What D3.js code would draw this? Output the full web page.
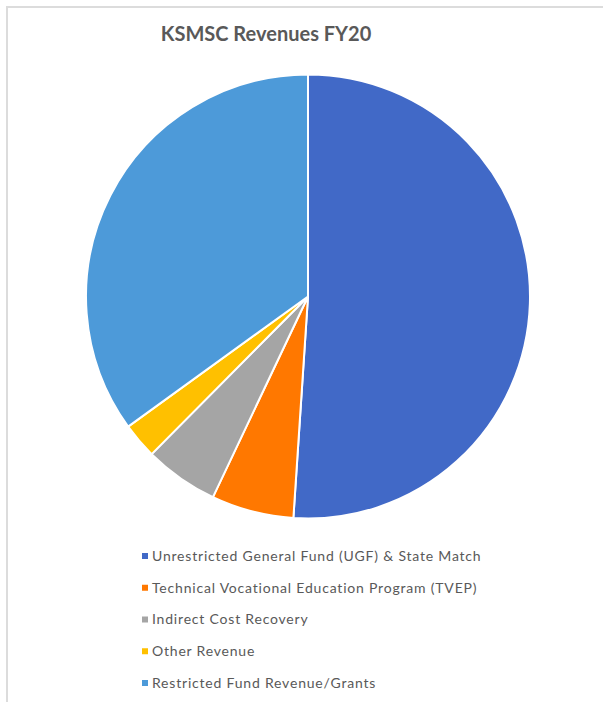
<!DOCTYPE html>
<html>
<head>
<meta charset="utf-8">
<script src="https://cdn.jsdelivr.net/npm/d3@7"></script>
<style>
  body { margin: 0; background: #fff; }
  svg { display: block; }
</style>
</head>
<body>
<svg id="chart"></svg>
<script>
// Revenue shares (percent of total)
const categories = [
    "Unrestricted General Fund (UGF) & State Match",
    "Technical Vocational Education Program (TVEP)",
    "Indirect Cost Recovery",
    "Other Revenue",
    "Restricted Fund Revenue/Grants"
];
const shares = [51.1, 6.0, 5.4, 2.6, 35.0];
const colors = ["#4169C7", "#FF7800", "#A5A5A5", "#FFC000", "#4D9AD9"];
const title = "KSMSC Revenues FY20";

const W = 603, H = 702;
const cx = 308, cy = 296.5, radius = 222;

let svg = d3.select("#chart")
    .attr("width", W)
    .attr("height", H);

//Chart frame (only left and top edges are visible in the crop)
svg.append("rect")
    .attr("x", 7)
    .attr("y", 7)
    .attr("width", W + 20)
    .attr("height", H + 20)
    .attr("fill", "#fff")
    .attr("stroke", "#dcdcdc")
    .attr("stroke-width", 2);

svg.append("text")
    .attr("x", 266)
    .attr("y", 41)
    .attr("text-anchor", "middle")
    .attr("fill", "#595959")
    .style("font-family", "Lato, 'Open Sans', sans-serif")
    .style("font-weight", "bold")
    .style("font-size", "20px")
    .text(title);

let data = categories.map((c, i) => ({name: c, value: shares[i], color: colors[i]}));

let pie = d3.pie()
    .sort(null)
    .value(d => d.value);

let arc = d3.arc()
    .innerRadius(0)
    .outerRadius(radius);

let pg = svg.append("g")
    .attr("transform", "translate(" + cx + "," + cy + ")");

pg.selectAll("path")
    .data(pie(data))
    .enter().append("path")
    .attr("d", arc)
    .attr("fill", d => d.data.color)
    .attr("stroke", "#fff")
    .attr("stroke-width", 2)
    .attr("stroke-linejoin", "round");

//Legend
let legendY = d3.scalePoint()
    .domain(categories)
    .range([556, 683]);

let lg = svg.append("g");

let rows = lg.selectAll("g")
    .data(data)
    .enter().append("g")
    .attr("transform", d => "translate(142," + legendY(d.name) + ")");

rows.append("rect")
    .attr("x", 0)
    .attr("y", -3)
    .attr("width", 6)
    .attr("height", 6)
    .attr("fill", d => d.color);

rows.append("text")
    .attr("x", 10)
    .attr("y", 0)
    .attr("dy", "0.35em")
    .attr("fill", "#595959")
    .style("font-family", "Lato, 'Open Sans', sans-serif")
    .style("font-size", "14px")
    .style("letter-spacing", "0.8px")
    .text(d => d.name);
</script>
</body>
</html>
